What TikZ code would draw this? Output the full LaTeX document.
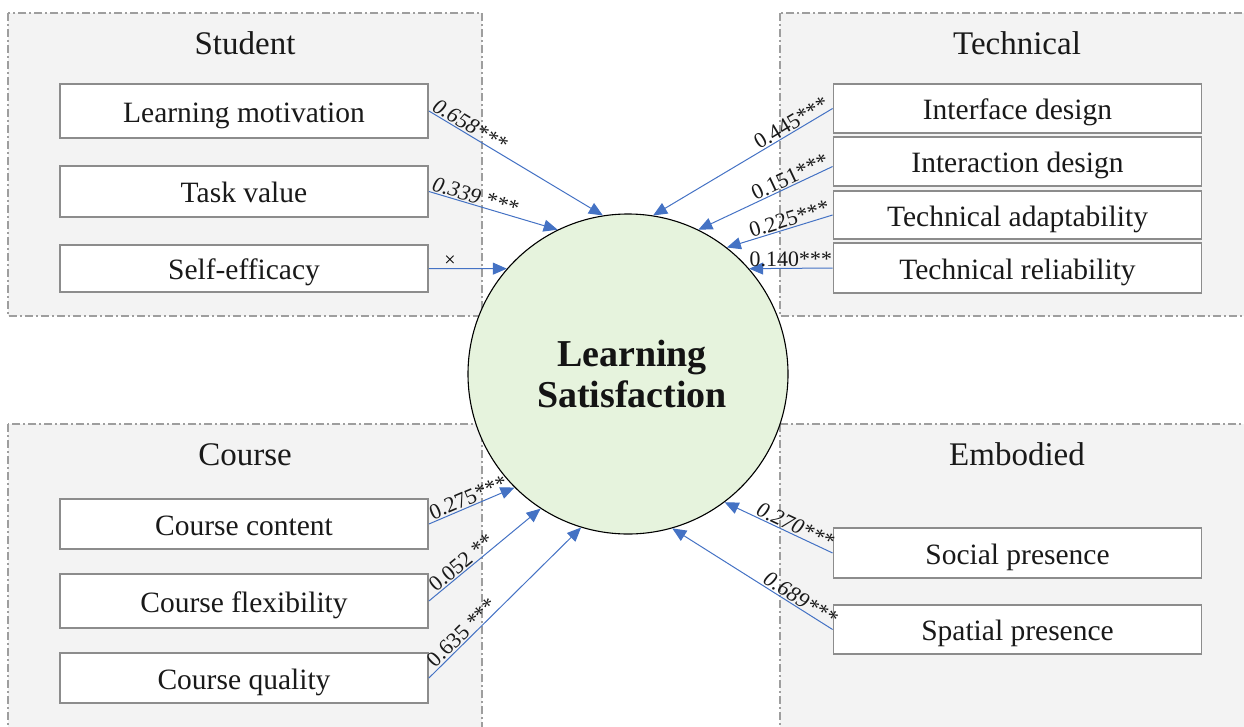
\documentclass[tikz,border=0pt]{standalone}
\usepackage{fontspec}
\setmainfont{Liberation Serif}
\usetikzlibrary{arrows.meta}
\definecolor{grpfill}{HTML}{F3F3F3}
\definecolor{grpline}{HTML}{9E9E9E}
\definecolor{boxline}{HTML}{8C8C8C}
\definecolor{arrowblue}{HTML}{4472C4}
\definecolor{lsfill}{HTML}{E6F3DD}
\begin{document}
\begin{tikzpicture}[x=1pt,y=-1pt,
  group/.style={fill=grpfill, draw=grpline, line width=1.2pt,
    dash pattern=on 8pt off 3pt on 2pt off 3pt},
  grouptitle/.style={font=\fontsize{33}{36}\selectfont, text=black!90, inner sep=0pt},
  factor/.style={draw=boxline, line width=1.8pt, fill=white, minimum width=368pt,
    inner sep=0pt, text height=22pt, text depth=0pt,
    font=\fontsize{29.5}{32}\selectfont, text=black!90},
  effect/.style={draw=arrowblue, line width=1pt, -{Triangle[length=14pt,width=12pt]}},
  coef/.style={font=\fontsize{22}{24}\selectfont, sloped, above, inner sep=1pt, text=black!90},
  coefit/.style={coef, font=\fontsize{22}{24}\selectfont\itshape},
]
\useasboundingbox (0,0) rectangle (1244,726);
\clip (0,0) rectangle (1244,726);

% factor groups
\draw[group] (8,13) rectangle (482,316);
\draw[group] (780,13) rectangle (1260,316);
\draw[group] (8,424) rectangle (482,740);
\draw[group] (780,424) rectangle (1260,740);

\node[grouptitle] (tstu) at (245,43) {Student};
\node[grouptitle] (ttec) at (1017,43) {Technical};
\node[grouptitle] (tcou) at (245,455) {Course};
\node[grouptitle] (temb) at (1017,454) {Embodied};

% student factors
\node[factor, minimum height=54pt] (lm) at (244,111) {Learning motivation};
\node[factor, minimum height=51pt] (tv) at (244,191.5) {Task value};
\node[factor, minimum height=47pt] (se) at (244,268.5) {Self-efficacy};

% technical factors
\node[factor, minimum height=49pt] (ifd) at (1017.5,108.5) {Interface design};
\node[factor, minimum height=49pt] (iad) at (1017.5,161.5) {Interaction design};
\node[factor, minimum height=48pt] (tad) at (1017.5,215) {Technical adaptability};
\node[factor, minimum height=50pt] (trl) at (1017.5,268) {Technical reliability};

% course factors
\node[factor, minimum height=50pt] (cc) at (244,524) {Course content};
\node[factor, minimum height=54pt] (cf) at (244,601) {Course flexibility};
\node[factor, minimum height=50pt] (cq) at (244,678) {Course quality};

% embodied factors
\node[factor, minimum height=50pt] (sop) at (1017.5,553) {Social presence};
\node[factor, minimum height=49pt] (spp) at (1017.5,629.5) {Spatial presence};

% outcome
\node[circle, draw=black, line width=1.1pt, fill=lsfill, minimum size=320pt, inner sep=0pt,
  align=center, font=\fontsize{38}{41}\selectfont\bfseries, text=black!92] (ls) at (628,374)
  {\hspace*{8pt}Learning\\\hspace*{8pt}Satisfaction};

% paths with coefficients
\draw[effect] (lm.east) -- node[coefit, pos=0.21] {0.658***} (ls.99.3);
\draw[effect] (tv.east) -- node[coefit, pos=0.34] {0.339 ***} (ls.116.7);
\draw[effect] (se.east) -- node[pos=0.27, above, inner sep=2pt, font=\fontsize{20}{22}\selectfont] {×} (ls.139.8);

\draw[effect] (ifd.west) -- node[coef, pos=0.205] {0.445***} (ls.81);
\draw[effect] ([yshift=-5pt]iad.west) -- node[coef, pos=0.29] {0.151***} (ls.64.7);
\draw[effect] (tad.west) -- node[coef, pos=0.385] {0.225***} (ls.52.6);
\draw[effect] (trl.west) -- node[coef, pos=0.5] {0.140***} (ls.41.2);

\draw[effect] (cc.east) -- node[coef, pos=0.5] {0.275***} (ls.225);
\draw[effect] (cf.east) -- node[coef, pos=0.34] {0.052 **} (ls.237);
\draw[effect] (cq.east) -- node[coef, pos=0.26] {0.635 ***} (ls.253.4);

\draw[effect] (sop.west) -- node[coefit, pos=0.38] {0.270***} (ls.307.7);
\draw[effect] (spp.west) -- node[coefit, pos=0.23] {0.689***} (ls.286.8);
\end{tikzpicture}
\end{document}
